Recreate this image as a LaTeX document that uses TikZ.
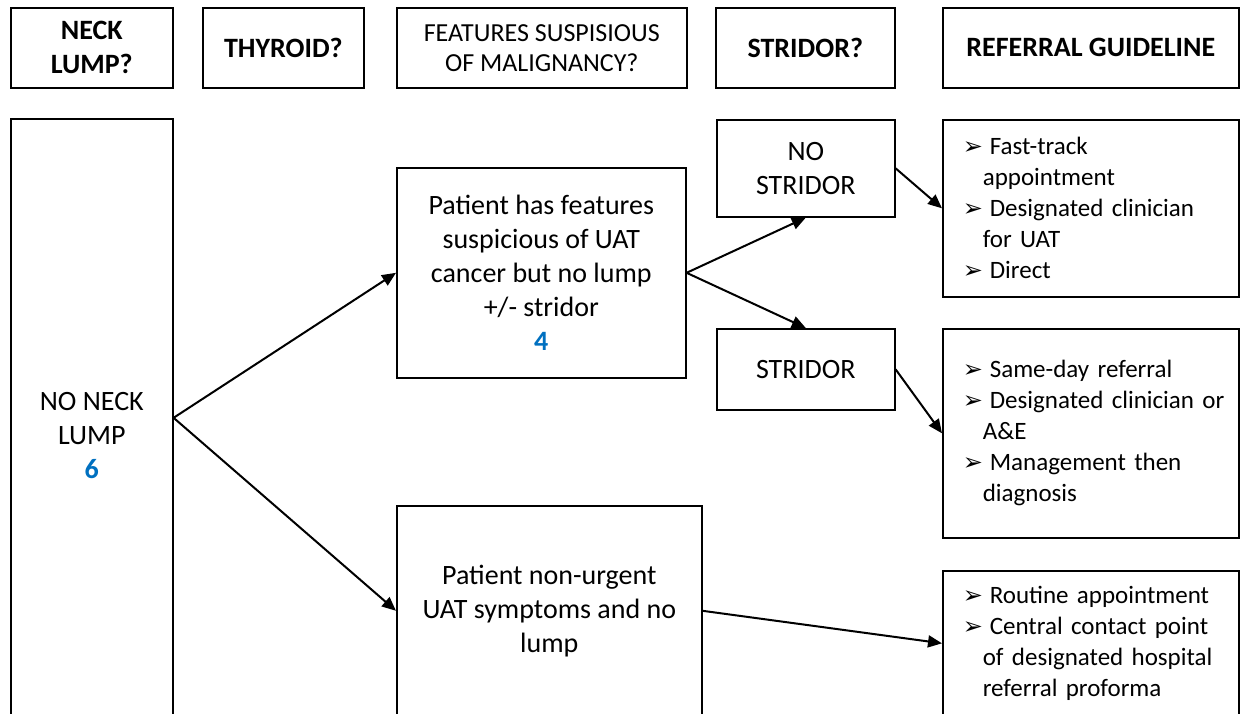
\documentclass[tikz,border=0pt]{standalone}
\usepackage{fontspec}
\setmainfont{Carlito}
\newfontfamily\dingfont{DejaVu Sans}
\usepackage{tikz}
\usetikzlibrary{arrows.meta}
\definecolor{numblue}{HTML}{0070C0}
\newcommand{\casenum}[1]{\\{\color{numblue}\bfseries #1}}
\newcommand{\itm}{\hspace*{9pt}\makebox[13.5pt][l]{\dingfont\fontsize{12}{12}\selectfont\char"27A2}}
\newcommand{\cnt}{\hspace*{19pt}}

\begin{document}
\begin{tikzpicture}[x=0.5pt,y=-0.5pt,
  box/.style={draw,line width=0.8pt,anchor=north west,inner sep=0pt,align=center,font=\fontsize{14}{17}\selectfont},
  head/.style={box,minimum height=40pt,font=\fontsize{14}{17}\selectfont\bfseries},
  refbox/.style={box,align=left,text width=146pt,inner xsep=1pt,font=\fontsize{12.5}{15.5}\selectfont},
  conn/.style={line width=1pt,-{Triangle[length=7pt,width=6pt]}}]
\useasboundingbox (0,0) rectangle (1247,713);
\clip (0,0) rectangle (1247,713);
% column heads
\node[head,minimum width=81pt] (neckq) at (10,7) {NECK\\LUMP?};
\node[head,minimum width=80.5pt] (thyq) at (202,7) {THYROID?};
\node[head,minimum width=145pt,font=\fontsize{13}{15}\selectfont] (malq) at (396,7) {FEATURES SUSPISIOUS\\OF MALIGNANCY?};
\node[head,minimum width=89.5pt] (strq) at (715,7) {STRIDOR?};
\node[head,minimum width=148pt] (refq) at (942,7) {REFERRAL GUIDELINE};
% pathway
\node[box,minimum width=81pt,minimum height=317pt] (noneck) at (10,118) {NO NECK\\LUMP\casenum{6}};
\node[box,minimum width=144.5pt,minimum height=105pt] (susp) at (396,167) {Patient has features\\suspicious of UAT\\cancer but no lump\\+/- stridor\casenum{4}};
\node[box,minimum width=152.5pt,minimum height=105pt] (nonurg) at (396,505) {Patient non-urgent\\UAT symptoms and no\\lump};
\node[box,minimum width=89pt,minimum height=48.5pt] (nostr) at (716,119) {NO\\STRIDOR};
\node[box,minimum width=89pt,minimum height=40.5pt] (str) at (716,328) {STRIDOR};
\node[refbox,minimum height=88.5pt] (ref1) at (942,119) {\itm Fast-track\\\cnt appointment\\\itm Designated clinician\\\cnt for UAT\\\itm Direct};
\node[refbox,minimum height=104.5pt] (ref2) at (942,328) {\itm Same-day referral\\\itm Designated clinician or\\\cnt A\&E\\\itm Management then\\\cnt diagnosis};
\node[refbox,minimum height=72.5pt] (ref3) at (942,570) {\itm Routine appointment\\\itm Central contact point\\\cnt of designated hospital\\\cnt referral proforma};
\draw[conn] ([yshift=9pt]noneck.east) -- (susp.west);
\draw[conn] ([yshift=9pt]noneck.east) -- (nonurg.west);
\draw[conn] (susp.east) -- (nostr.south);
\draw[conn] (susp.east) -- (str.north);
\draw[conn] (nostr.east) -- (ref1.west);
\draw[conn] (str.east) -- (ref2.west);
\draw[conn] (nonurg.east) -- (ref3.west);
\end{tikzpicture}
\end{document}
